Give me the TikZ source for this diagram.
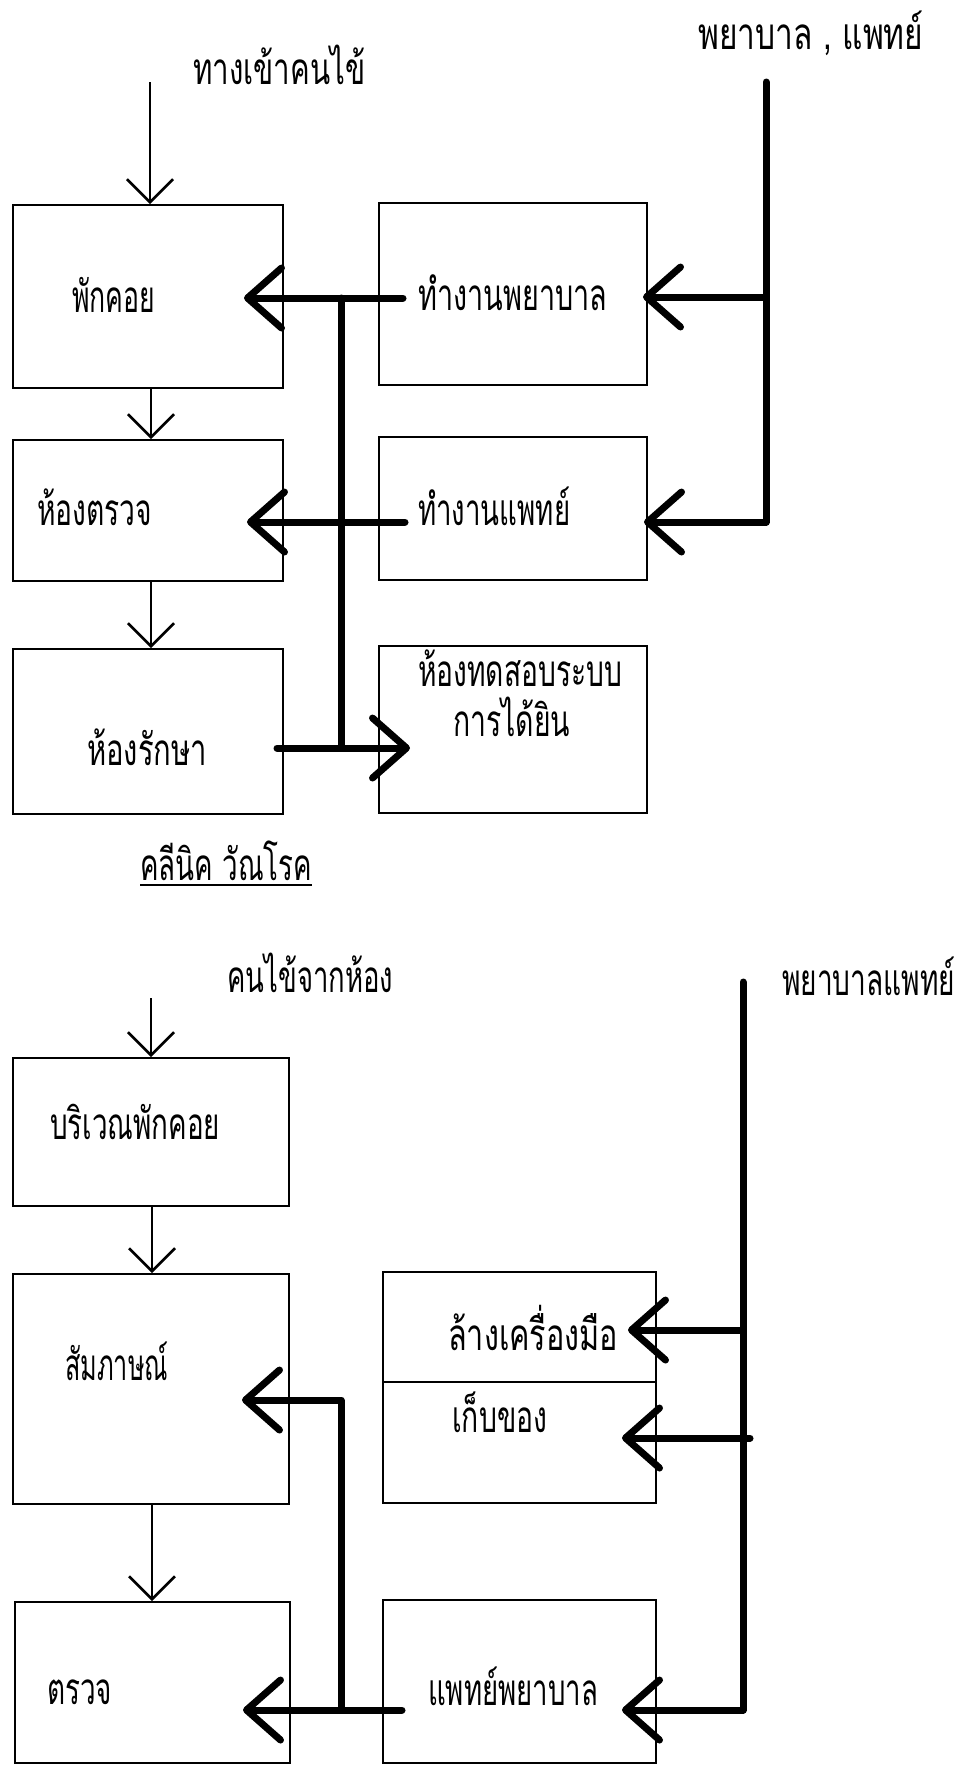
\documentclass[tikz,border=0pt]{standalone}
\usepackage{fontspec}
\usepackage{graphicx}
\newfontfamily\thaifont[Script=Thai]{Loma}
\usetikzlibrary{arrows.meta}
\newcommand{\thw}[2]{\resizebox{#1}{\height}{#2}}
\tikzset{
  box/.style={draw, line width=2pt, inner sep=0pt, anchor=north west},
  lbl/.style={inner sep=0pt, anchor=base west, font=\thaifont\fontsize{44}{48}\selectfont},
  thinarrow/.style={line width=2.5pt, -{Straight Barb[length=23pt, width=46pt]}},
  thickarrow/.style={line width=7pt, line cap=round, line join=round, -{Straight Barb[length=34pt, width=60pt, round]}},
  thickline/.style={line width=7pt, line cap=round, line join=round},
}
\begin{document}
\begin{tikzpicture}[x=1pt, y=-1pt]
\fill[white] (0,0) rectangle (961,1765);
\useasboundingbox (0,0) rectangle (961,1765);

% boxes
\node[box, minimum width=270pt, minimum height=183pt] (A) at (12,204) {};
\node[box, minimum width=270pt, minimum height=141pt] (B) at (12,439) {};
\node[box, minimum width=270pt, minimum height=165pt] (C) at (12,648) {};
\node[box, minimum width=268pt, minimum height=182pt] (D) at (378,202) {};
\node[box, minimum width=268pt, minimum height=143pt] (E) at (378,436) {};
\node[box, minimum width=268pt, minimum height=167pt] (F) at (378,645) {};
\node[box, minimum width=276pt, minimum height=148pt] (G) at (12,1057) {};
\node[box, minimum width=276pt, minimum height=230pt] (H) at (12,1273) {};
\node[box, minimum width=273pt, minimum height=231pt] (I) at (382,1271) {};
\node[box, minimum width=275pt, minimum height=161pt] (J) at (14,1601) {};
\node[box, minimum width=273pt, minimum height=163pt] (K) at (382,1599) {};
\coordinate (divy) at (0,1382);
\draw[line width=2pt] (I.west |- divy) -- (I.east |- divy);

% labels
\node[lbl] (t1) at (698,49) {\thw{225pt}{พยาบาล , แพทย์}};
\node[lbl] (t2) at (193,84) {\thw{172pt}{ทางเข้าคนไข้}};
\node[lbl] (tA) at (72,312) {\thw{83pt}{พักคอย}};
\node[lbl] (tD) at (418,310) {\thw{189pt}{ทำงานพยาบาล}};
\node[lbl] (tB) at (37,525) {\thw{115pt}{ห้องตรวจ}};
\node[lbl] (tE) at (418,525) {\thw{152pt}{ทำงานแพทย์}};
\node[lbl] (tC) at (87,765) {\thw{120pt}{ห้องรักษา}};
\node[lbl] (tF1) at (418,686) {\thw{204pt}{ห้องทดสอบระบบ}};
\node[lbl] (tF2) at (453,736) {\thw{117pt}{การได้ยิน}};
\node[lbl] (tK) at (140,880) {\thw{172pt}{คลีนิค วัณโรค}};
\draw[line width=2pt] ([yshift=-5pt]tK.base west) -- ([yshift=-5pt]tK.base east);
\node[lbl] (t3) at (227,992) {\thw{166pt}{คนไข้จากห้อง}};
\node[lbl] (t4) at (782,995) {\thw{173pt}{พยาบาลแพทย์}};
\node[lbl] (tG) at (50,1139) {\thw{170pt}{บริเวณพักคอย}};
\node[lbl] (tH) at (65,1380) {\thw{103pt}{สัมภาษณ์}};
\node[lbl] (tI1) at (448,1350) {\thw{170pt}{ล้างเครื่องมือ}};
\node[lbl] (tI2) at (452,1432) {\thw{95pt}{เก็บของ}};
\node[lbl] (tJ) at (47,1704) {\thw{65pt}{ตรวจ}};
\node[lbl] (tKK) at (428,1705) {\thw{170pt}{แพทย์พยาบาล}};

% thin patient flow arrows
\coordinate (in1) at (150,82);
\draw[thinarrow] (in1) -- (in1 |- A.north);
\draw[thinarrow] ([xshift=3pt]A.south) -- ([xshift=3pt]B.north);
\draw[thinarrow] ([xshift=3pt]B.south) -- ([xshift=3pt]C.north);
\coordinate (in2) at (151,998);
\draw[thinarrow] (in2) -- (in2 |- G.north);
\draw[thinarrow] ([xshift=1pt]G.south) -- ([xshift=1pt]H.north);
\draw[thinarrow] ([xshift=1pt]H.south) -- ([xshift=1pt]H.south |- J.north);

% upper staff lines
\coordinate (r1top) at (766,82);
\coordinate (r1mid) at (766,297);
\coordinate (r1bot) at (766,522);
\draw[thickarrow] (r1mid) -- ([xshift=-5pt]D.east |- r1mid);
\draw[thickarrow] (r1top) -- (r1bot) -- ([xshift=-4pt]E.east |- r1bot);

\coordinate (dA) at (403,298);
\coordinate (eB) at (405,522);
\coordinate (mtop) at (341,298);
\coordinate (mbot) at (341,748);
\draw[thickline] (mtop) -- (mbot);
\draw[thickarrow] (dA) -- ([xshift=-40pt]A.east |- dA);
\draw[thickarrow] (eB) -- ([xshift=-37pt]B.east |- eB);
\coordinate (cy) at (0,748);
\draw[thickarrow] ([xshift=-7pt]C.east |- cy) -- ([xshift=32pt]F.west |- cy);

% lower staff lines
\coordinate (r2top) at (743,982);
\coordinate (r2a) at (743,1330);
\coordinate (r2b) at (750,1438);
\coordinate (r2bot) at (743,1710);
\draw[thickarrow] (r2top) -- (r2bot) -- ([xshift=-35pt]K.east |- r2bot);
\draw[thickarrow] (r2a) -- ([xshift=-29pt]I.east |- r2a);
\draw[thickarrow] (r2b) -- ([xshift=-35pt]I.east |- r2b);

\coordinate (kL) at (402,1710);
\coordinate (m2bot) at (341,1710);
\coordinate (m2top) at (341,1400);
\draw[thickarrow] (kL) -- ([xshift=-48pt]J.east |- kL);
\draw[thickarrow] (m2bot) -- (m2top) -- ([xshift=-48pt]H.east |- m2top);
\end{tikzpicture}
\end{document}
